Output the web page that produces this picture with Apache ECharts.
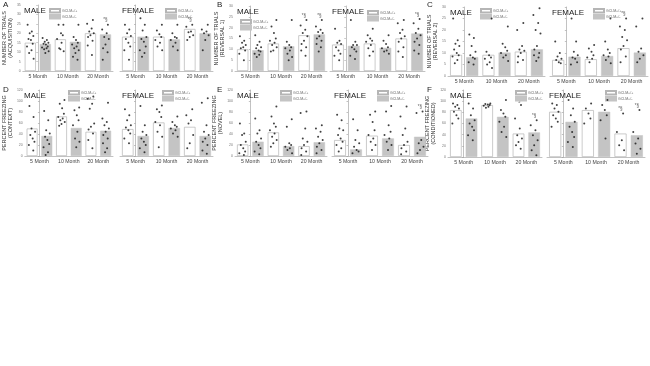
<!DOCTYPE html>
<html>
<head>
<meta charset="utf-8">
<script src="https://cdn.jsdelivr.net/npm/echarts@6/dist/echarts.min.js"></script>
<style>
  html, body { margin: 0; background: #fff; }
  #chart { width: 650px; height: 366px; }
</style>
</head>
<body>
<div id="chart"></div>
<script>
const months = ['5 Month', '10 Month', '20 Month'];
const genotypes = ['GCLM+/+', 'GCLM+/-'];

// A - acquisition
const aMaleWT = [15.0, 16.8, 20.0];
const aMaleHET = [14.3, 15.5, 19.4];
const aMaleWTPts = [[24.5, 21, 20, 18.5, 17, 16.5, 14.5, 13, 11, 9.5, 6.5], [24.5, 24.5, 20, 19, 17, 15, 12, 10.5, 11.5], [27, 25, 22.5, 21, 20, 19, 18, 16, 13.5, 8.5]];
const aMaleHETPts = [[17.5, 16.5, 15.5, 15, 14.5, 14, 13, 12.5, 12, 11.5, 10.5, 9.5], [24.5, 18, 16.5, 15, 14, 13, 12, 11, 9.5, 7.5, 6], [24.5, 22, 20, 18, 17, 14, 12, 10, 6]];
const aMaleSigWT = ['', '', ''];
const aMaleSigHET = ['', '', '*§'];
const aFemaleWT = [18.2, 18.2, 22.3];
const aFemaleHET = [18.2, 16.8, 20.0];
const aFemaleWTPts = [[24.5, 22, 20, 18.5, 17, 15, 13, 11, 6], [24.5, 21.5, 19.5, 18, 16.5, 15, 13, 11], [24.5, 23.5, 21, 20.5, 19, 18, 16.5]];
const aFemaleHETPts = [[28, 24.5, 21.5, 18, 17, 15.5, 13, 11, 9.5, 7.5], [24.5, 20, 18, 17.5, 16.5, 15, 13, 11], [24.5, 22, 21, 20, 19, 16.5, 11]];
const aFemaleSigWT = ['', '', '*§'];
const aFemaleSigHET = ['', '', ''];

// B - reversal 1
const bMaleWT = [10.0, 12.7, 16.5];
const bMaleHET = [9.6, 11.4, 16.9];
const bMaleWTPts = [[16, 14, 13, 12, 10.5, 11, 9.5, 8, 5], [23.5, 20.5, 17.5, 15, 14, 13, 12, 11, 9.5, 9], [23.5, 21, 19, 17.5, 16, 14, 12.5, 11, 9.5, 7]];
const bMaleHETPts = [[16.5, 13.5, 12, 11, 10.5, 9.5, 9, 8, 7.5, 6.5], [23.5, 13.5, 12, 11, 10.5, 9.5, 8, 6.5, 5], [23.5, 20.5, 19, 18, 17.5, 16, 15, 14, 12.5, 11, 9]];
const bMaleSigWT = ['', '', '*§'];
const bMaleSigHET = ['', '', '*§'];
const bFemaleWT = [12.2, 12.7, 15.0];
const bFemaleHET = [11.6, 10.7, 17.3];
const bFemaleWTPts = [[19.5, 14, 13, 12.5, 11, 9.5, 8, 7, 5], [19.5, 16.5, 15, 14, 13.5, 12, 10.5, 9, 7], [23.5, 22, 19, 17.5, 16, 15, 13.5, 11, 9, 6.5]];
const bFemaleHETPts = [[23.5, 13.5, 12, 12, 11, 10, 9, 7, 5.5], [16.5, 14, 12.5, 11, 10.5, 9.5, 9, 8], [24, 22, 19.5, 17.5, 16.5, 15, 13.5, 12, 9.5, 8]];
const bFemaleSigWT = ['', '', ''];
const bFemaleSigHET = ['', '', '*§'];

// C - reversal 2
const cMaleWT = [9.2, 9.2, 10.6];
const cMaleHET = [8.2, 10.2, 11.6];
const cMaleWTPts = [[25, 15.5, 14, 13, 11.5, 10, 9, 8.5, 7, 5.5], [25, 10.5, 9, 8, 7.5, 6, 5, 3.5], [23, 20, 13, 11.5, 11, 10, 8.5, 7, 6]];
const cMaleHETPts = [[18, 16.5, 13, 10.5, 9, 8, 7.5, 6, 5], [21.5, 14, 12.5, 11, 10, 9, 8, 6.5], [29.5, 26.5, 23, 20, 18.5, 13, 11.5, 10, 9, 8, 6.5]];
const cMaleSigWT = ['', '', ''];
const cMaleSigHET = ['', '', ''];
const cFemaleWT = [7.0, 7.3, 12.1];
const cFemaleHET = [8.4, 8.7, 10.2];
const cFemaleWTPts = [[15, 10, 8.5, 7.5, 7, 6, 5.5], [13.5, 12, 10.5, 9, 8, 7.5, 6], [25, 21.5, 20, 17, 15.5, 13, 11.5, 8.5, 6]];
const cFemaleHETPts = [[25, 15, 10.5, 9, 8, 7.5, 6, 5], [25, 15, 11.5, 10, 9, 8.5, 7, 5.5], [25, 21.5, 12, 10.5, 9, 7.5, 6]];
const cFemaleSigWT = ['', '', '*§'];
const cFemaleSigHET = ['', '', ''];

// D - context
const dMaleWT = [50, 72, 44];
const dMaleHET = [36.5, 51, 46];
const dMaleWTPts = [[91, 71, 50, 44, 38, 32, 26, 20, 10], [102, 95, 87, 77, 71, 68, 65, 62, 58, 55], [108, 104, 95, 86, 59, 53, 48, 41, 29, 14]];
const dMaleHETPts = [[82, 65, 47, 41, 35, 29, 22, 16, 7, 2], [88, 83, 74, 65, 56, 44, 32, 26, 16], [97, 68, 62, 56, 50, 44, 38, 32, 23, 14, 7]];
const dMaleSigWT = ['', '', ''];
const dMaleSigHET = ['', '', ''];
const dFemaleWT = [49, 61, 53];
const dFemaleHET = [36.5, 51, 36.5];
const dFemaleWTPts = [[85, 74, 65, 56, 52, 47, 41, 32, 23], [92, 85, 80, 71, 62, 56, 44, 35, 16], [85, 74, 65, 59, 38, 23, 14]];
const dFemaleHETPts = [[91, 56, 44, 38, 32, 26, 20, 14, 7], [72, 62, 56, 53, 50, 47, 41, 35], [105, 97, 56, 44, 38, 32, 26, 20, 10, 4]];
const dFemaleSigWT = ['', '', ''];
const dFemaleSigHET = ['', '', ''];

// E - novel
const eMaleWT = [21, 43, 18];
const eMaleHET = [26, 18, 25];
const eMaleWTPts = [[59, 41, 38, 26, 20, 14, 8, 5, 2], [90, 72, 59, 53, 47, 41, 35, 29, 23, 17], [81, 78, 50, 32, 26, 20, 14, 8, 2]];
const eMaleHETPts = [[68, 47, 41, 32, 26, 20, 14, 8, 3], [67, 53, 23, 20, 17, 14, 11, 5], [56, 50, 44, 35, 29, 23, 17, 11, 5]];
const eMaleSigWT = ['', '', ''];
const eMaleSigHET = ['', '', ''];
const eFemaleWT = [29, 37, 20];
const eFemaleHET = [12, 32, 35];
const eFemaleWTPts = [[75, 65, 50, 47, 38, 32, 26, 20, 14, 8], [81, 75, 62, 47, 38, 32, 26, 20, 11], [90, 72, 50, 38, 26, 20, 14, 8, 3]];
const eFemaleHETPts = [[67, 47, 29, 23, 17, 11, 8, 5], [91, 81, 56, 44, 38, 32, 26, 20, 11], [81, 78, 29, 23, 17, 11, 5]];
const eFemaleSigWT = ['', '', ''];
const eFemaleSigHET = ['', '', '*§'];

// F - conditioned
const fMaleWT = [84, 93, 42];
const fMaleHET = [69, 72, 44];
const fMaleWTPts = [[96, 93, 90, 87, 81, 75, 69, 60], [96, 95, 94, 93, 92, 90, 88], [93, 69, 51, 39, 33, 27, 21, 15]];
const fMaleHETPts = [[96, 87, 75, 66, 60, 54, 48, 39, 30], [102, 84, 78, 72, 63, 54, 45, 36], [66, 57, 48, 39, 30, 21, 12, 3]];
const fMaleSigWT = ['', '', '*§'];
const fMaleSigHET = ['', '', '*§'];
const fFemaleWT = [81, 84, 42];
const fFemaleHET = [63, 81, 39];
const fFemaleWTPts = [[96, 93, 87, 81, 75, 69, 63, 54], [96, 87, 78, 69, 60], [78, 45, 30, 21, 12]];
const fFemaleHETPts = [[102, 87, 75, 63, 54, 45, 36, 27, 18], [102, 93, 84, 75, 66, 33], [84, 45, 33, 24, 15, 6]];
const fFemaleSigWT = ['', '', '*§'];
const fFemaleSigHET = ['', '', '*§'];

const panels = [
  { letter: 'A', yName: 'NUMBER OF TRIALS\n(ACQUISITION)', max: 35, step: 5, subs: [
    { sex: 'MALE', wt: aMaleWT, het: aMaleHET, wtPts: aMaleWTPts, hetPts: aMaleHETPts, wtSig: aMaleSigWT, hetSig: aMaleSigHET },
    { sex: 'FEMALE', wt: aFemaleWT, het: aFemaleHET, wtPts: aFemaleWTPts, hetPts: aFemaleHETPts, wtSig: aFemaleSigWT, hetSig: aFemaleSigHET }] },
  { letter: 'B', yName: 'NUMBER OF TRIALS\n(REVERSAL 1)', max: 30, step: 5, subs: [
    { sex: 'MALE', wt: bMaleWT, het: bMaleHET, wtPts: bMaleWTPts, hetPts: bMaleHETPts, wtSig: bMaleSigWT, hetSig: bMaleSigHET },
    { sex: 'FEMALE', wt: bFemaleWT, het: bFemaleHET, wtPts: bFemaleWTPts, hetPts: bFemaleHETPts, wtSig: bFemaleSigWT, hetSig: bFemaleSigHET }] },
  { letter: 'C', yName: 'NUMBER OF TRIALS\n(REVERSAL 2)', max: 30, step: 5, subs: [
    { sex: 'MALE', wt: cMaleWT, het: cMaleHET, wtPts: cMaleWTPts, hetPts: cMaleHETPts, wtSig: cMaleSigWT, hetSig: cMaleSigHET },
    { sex: 'FEMALE', wt: cFemaleWT, het: cFemaleHET, wtPts: cFemaleWTPts, hetPts: cFemaleHETPts, wtSig: cFemaleSigWT, hetSig: cFemaleSigHET }] },
  { letter: 'D', yName: 'PERCENT FREEZING\n(CONTEXT)', max: 120, step: 20, subs: [
    { sex: 'MALE', wt: dMaleWT, het: dMaleHET, wtPts: dMaleWTPts, hetPts: dMaleHETPts, wtSig: dMaleSigWT, hetSig: dMaleSigHET },
    { sex: 'FEMALE', wt: dFemaleWT, het: dFemaleHET, wtPts: dFemaleWTPts, hetPts: dFemaleHETPts, wtSig: dFemaleSigWT, hetSig: dFemaleSigHET }] },
  { letter: 'E', yName: 'PERCENT FREEZING\n(NOVEL)', max: 120, step: 20, subs: [
    { sex: 'MALE', wt: eMaleWT, het: eMaleHET, wtPts: eMaleWTPts, hetPts: eMaleHETPts, wtSig: eMaleSigWT, hetSig: eMaleSigHET },
    { sex: 'FEMALE', wt: eFemaleWT, het: eFemaleHET, wtPts: eFemaleWTPts, hetPts: eFemaleHETPts, wtSig: eFemaleSigWT, hetSig: eFemaleSigHET }] },
  { letter: 'F', yName: 'PERCENT FREEZING\n(CONDITIONED)', max: 120, step: 20, subs: [
    { sex: 'MALE', wt: fMaleWT, het: fMaleHET, wtPts: fMaleWTPts, hetPts: fMaleHETPts, wtSig: fMaleSigWT, hetSig: fMaleSigHET },
    { sex: 'FEMALE', wt: fFemaleWT, het: fFemaleHET, wtPts: fFemaleWTPts, hetPts: fFemaleHETPts, wtSig: fFemaleSigWT, hetSig: fFemaleSigHET }] }
];

// page layout, in px: letter position, [left, top, width, height] of each grid, legend corner
const layout = [
  { letter: [3, 1], grids: [[22, 5, 91, 66], [120, 5, 93, 66]], legends: [[49, 8], [165, 8]] },
  { letter: [217, 1], grids: [[235, 6, 92, 65], [330, 6, 95, 65]], legends: [[240, 19], [367, 10]] },
  { letter: [427, 1], grids: [[448, 7, 97, 69], [550, 7, 98, 69]], legends: [[480, 8], [593, 8]] },
  { letter: [3, 86], grids: [[22, 90, 91, 66], [120, 90, 93, 66]], legends: [[68, 90], [162, 90]] },
  { letter: [217, 86], grids: [[235, 90, 92, 66], [332, 90, 96, 66]], legends: [[280, 90], [377, 90]] },
  { letter: [427, 86], grids: [[448, 90, 94, 67], [547, 90, 98, 67]], legends: [[515, 90], [605, 90]] }
];

const FONT = 'Liberation Sans';
const jitter = [-0.09, 0.05, -0.02, 0.1, -0.06, 0.02, 0.08, -0.11, 0.04, -0.04, 0.11, 0, -0.08, 0.07];
const barShift = 0.25;

const grid = [], xAxis = [], yAxis = [], series = [], legend = [], title = [];

panels.forEach((p, pi) => {
  const lay = layout[pi];
  title.push({ text: p.letter, left: lay.letter[0], top: lay.letter[1], padding: 0,
    textStyle: { fontFamily: FONT, fontSize: 8, fontWeight: 'normal', color: '#222' } });
  p.subs.forEach((s, si) => {
    const g = grid.length;
    const [l, t, w, h] = lay.grids[si];
    grid.push({ left: l, top: t, width: w, height: h });
    title.push({ text: s.sex, left: l + 2, top: t + 2, padding: 0,
      textStyle: { fontFamily: FONT, fontSize: 8, fontWeight: 'normal', color: '#222' } });
    legend.push({ data: genotypes, left: lay.legends[si][0], top: lay.legends[si][1], orient: 'vertical',
      icon: 'rect', itemWidth: 10, itemHeight: 3.5, itemGap: 0.5, padding: 0, selectedMode: false,
      textStyle: { fontFamily: FONT, fontSize: 3.5, color: '#666', padding: [0, 0, 0, -3] } });
    xAxis.push({ type: 'category', gridIndex: g, data: months,
      axisLine: { lineStyle: { color: '#999', width: 0.6 } }, axisTick: { show: false },
      axisLabel: { fontFamily: FONT, fontSize: 5.2, color: '#444', margin: 3 } });
    xAxis.push({ type: 'value', gridIndex: g, min: -0.5, max: 2.5, show: false });
    yAxis.push({ type: 'value', gridIndex: g, min: 0, max: p.max, interval: p.step,
      name: si === 0 ? p.yName : '', nameLocation: 'middle', nameGap: 6, nameRotate: 90,
      nameTextStyle: { fontFamily: FONT, fontSize: 5.5, lineHeight: 6, color: '#333' },
      axisLine: { show: true, lineStyle: { color: '#999', width: 0.6 } },
      axisTick: { show: true, length: 1.5, lineStyle: { color: '#999', width: 0.6 } },
      axisLabel: { show: si === 0, fontFamily: FONT, fontSize: 3.5, color: '#777', margin: 2 },
      splitLine: { show: false } });

    const barBase = { type: 'bar', xAxisIndex: 2 * g, yAxisIndex: g, barWidth: '37%', barGap: '35%', silent: true };
    series.push(Object.assign({}, barBase, { name: genotypes[0], data: s.wt,
      itemStyle: { color: '#fff', borderColor: '#b5b5b5', borderWidth: 0.7 } }));
    series.push(Object.assign({}, barBase, { name: genotypes[1], data: s.het,
      itemStyle: { color: '#c4c4c4', borderColor: '#c4c4c4', borderWidth: 0.5 } }));

    const pts = [], sigs = [];
    [[s.wtPts, s.wtSig, -barShift], [s.hetPts, s.hetSig, barShift]].forEach(([groups, sig, shift]) => {
      groups.forEach((vals, ci) => {
        vals.forEach((v, k) => pts.push([ci + shift + jitter[(k + ci * 3) % jitter.length], v]));
        if (sig[ci]) sigs.push({ value: [ci + shift, Math.max(...vals) + p.max * 0.07], name: sig[ci] });
      });
    });
    series.push({ type: 'scatter', xAxisIndex: 2 * g + 1, yAxisIndex: g, data: pts, symbolSize: 2,
      itemStyle: { color: '#111' }, silent: true, z: 5 });
    series.push({ type: 'scatter', xAxisIndex: 2 * g + 1, yAxisIndex: g, data: sigs, symbolSize: 0, silent: true,
      label: { show: true, position: 'inside', formatter: d => d.name, fontFamily: FONT, fontSize: 4.5, color: '#333' } });
  });
});

const chart = echarts.init(document.getElementById('chart'));
chart.setOption({ animation: false, backgroundColor: '#fff', title, grid, xAxis, yAxis, series, legend });
</script>
</body>
</html>
